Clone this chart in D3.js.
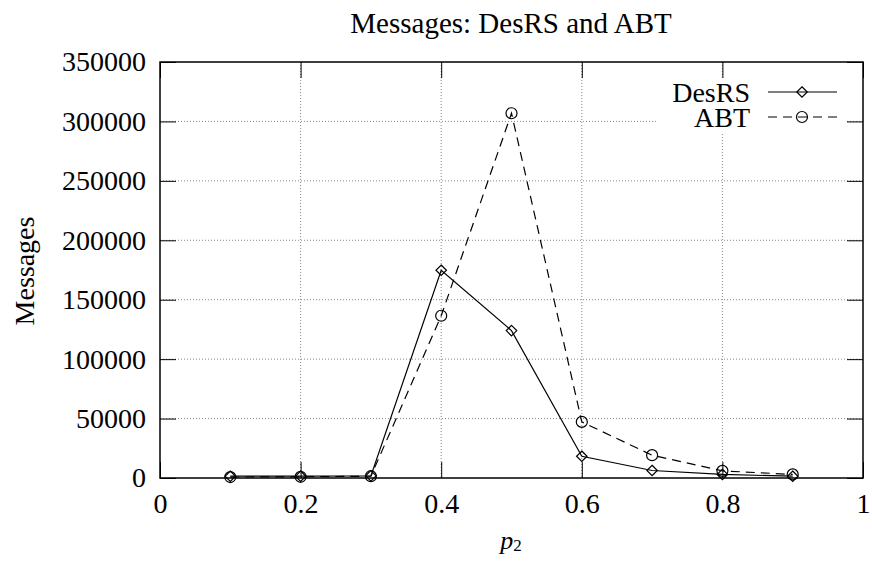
<!DOCTYPE html>
<html>
<head>
<meta charset="utf-8">
<script src="https://cdn.jsdelivr.net/npm/d3@7"></script>
<style>
  body { margin: 0; background: #fff; }
  svg text { font-family: "Liberation Serif", "DejaVu Serif", serif; fill: #000; }
</style>
</head>
<body>
<div id="graph"></div>
<script>
// chart data
var p2 = [0.1, 0.2, 0.3, 0.4, 0.5, 0.6, 0.7, 0.8, 0.9];
var desrs = [1500, 1500, 1800, 174800, 124000, 18300, 6300, 3000, 1500];
var abt = [800, 1000, 1500, 136500, 306900, 47200, 19200, 6000, 3000];
var xTicks = [0, 0.2, 0.4, 0.6, 0.8, 1];
var yTicks = [0, 50000, 100000, 150000, 200000, 250000, 300000, 350000];

// plot box
var margin = {top: 62, right: 9, bottom: 87, left: 160};
var width = 872 - margin.left - margin.right;
var height = 565 - margin.top - margin.bottom;

var x = d3.scaleLinear().domain([0, 1]).range([0, width]);
var y = d3.scaleLinear().domain([0, 350000]).range([height, 0]);

var svg = d3.select("#graph")
  .append("svg")
  .attr("width", 872)
  .attr("height", 565);

var g = svg.append("g")
  .attr("transform", "translate(" + margin.left + "," + margin.top + ")");

// dotted grid
g.append("g").selectAll("line")
  .data(xTicks.slice(1, -1))
  .enter().append("line")
  .attr("x1", function(d) { return x(d); })
  .attr("x2", function(d) { return x(d); })
  .attr("y1", 0).attr("y2", height)
  .attr("stroke", "#888").attr("stroke-width", 1)
  .attr("stroke-dasharray", "1,2");

g.append("g").selectAll("line")
  .data(yTicks.slice(1, -1))
  .enter().append("line")
  .attr("y1", function(d) { return y(d); })
  .attr("y2", function(d) { return y(d); })
  .attr("x1", 0).attr("x2", width)
  .attr("stroke", "#888").attr("stroke-width", 1)
  .attr("stroke-dasharray", "1,2");

// legend background hides grid
g.append("rect")
  .attr("x", 498).attr("y", 16)
  .attr("width", 188).attr("height", 54)
  .attr("fill", "#fff");

// axes with inward ticks, mirrored
var tickLen = 16;
g.append("g")
  .attr("transform", "translate(0," + height + ")")
  .call(d3.axisBottom(x).tickValues(xTicks).tickSize(-tickLen).tickPadding(15)
    .tickFormat(function(d) { return String(d); }));
g.append("g")
  .call(d3.axisLeft(y).tickValues(yTicks).tickSize(-tickLen).tickPadding(14)
    .tickFormat(d3.format("d")));
g.append("g")
  .call(d3.axisTop(x).tickValues(xTicks).tickSize(-tickLen).tickFormat(""));
g.append("g")
  .attr("transform", "translate(" + width + ",0)")
  .call(d3.axisRight(y).tickValues(yTicks).tickSize(-tickLen).tickFormat(""));

g.selectAll(".domain").remove();
g.selectAll("g").attr("font-family", null).attr("font-size", null);
g.selectAll(".tick line").attr("stroke", "#000");
g.selectAll(".tick text")
  .style("font-family", "Liberation Serif, DejaVu Serif, serif")
  .style("font-size", "28px");

g.append("rect")
  .attr("width", width).attr("height", height)
  .attr("fill", "none").attr("stroke", "#000").attr("stroke-width", 1.5);

// lines
var line = d3.line()
  .x(function(d, i) { return x(p2[i]); })
  .y(function(d) { return y(d); });

g.append("path")
  .datum(desrs)
  .attr("fill", "none").attr("stroke", "#000").attr("stroke-width", 1.2)
  .attr("d", line);

g.append("path")
  .datum(abt)
  .attr("fill", "none").attr("stroke", "#000").attr("stroke-width", 1.2)
  .attr("stroke-dasharray", "9,6")
  .attr("d", line);

// markers
var diamond = d3.symbol().type(d3.symbolDiamond2).size(70);
g.append("g").selectAll("path")
  .data(desrs)
  .enter().append("path")
  .attr("d", diamond)
  .attr("transform", function(d, i) { return "translate(" + x(p2[i]) + "," + y(d) + ")"; })
  .attr("fill", "none").attr("stroke", "#000").attr("stroke-width", 1.2);

g.append("g").selectAll("circle")
  .data(abt)
  .enter().append("circle")
  .attr("cx", function(d, i) { return x(p2[i]); })
  .attr("cy", function(d) { return y(d); })
  .attr("r", 5.5)
  .attr("fill", "none").attr("stroke", "#000").attr("stroke-width", 1.2);

// legend
var legend = g.append("g");
legend.append("text")
  .attr("x", 590).attr("y", 30).attr("dy", "0.35em")
  .attr("text-anchor", "end").style("font-size", "28px")
  .text("DesRS");
legend.append("line")
  .attr("x1", 608).attr("x2", 677).attr("y1", 30).attr("y2", 30)
  .attr("stroke", "#000").attr("stroke-width", 1.2);
legend.append("path")
  .attr("d", diamond)
  .attr("transform", "translate(642,30)")
  .attr("fill", "none").attr("stroke", "#000").attr("stroke-width", 1.2);

legend.append("text")
  .attr("x", 590).attr("y", 55).attr("dy", "0.35em")
  .attr("text-anchor", "end").style("font-size", "28px")
  .text("ABT");
legend.append("line")
  .attr("x1", 608).attr("x2", 677).attr("y1", 55).attr("y2", 55)
  .attr("stroke", "#000").attr("stroke-width", 1.2)
  .attr("stroke-dasharray", "9,6");
legend.append("circle")
  .attr("cx", 642).attr("cy", 55).attr("r", 5.5)
  .attr("fill", "none").attr("stroke", "#000").attr("stroke-width", 1.2);

// title and axis labels
svg.append("text")
  .attr("x", 511).attr("y", 33)
  .attr("text-anchor", "middle").style("font-size", "29px")
  .text("Messages: DesRS and ABT");

svg.append("text")
  .attr("transform", "translate(34," + 271 + ") rotate(-90)")
  .attr("text-anchor", "middle").style("font-size", "28px")
  .text("Messages");

var xl = svg.append("text")
  .attr("x", 511).attr("y", 549)
  .attr("text-anchor", "middle").style("font-size", "26px");
xl.append("tspan").style("font-style", "italic").text("p");
xl.append("tspan").attr("dy", 2).style("font-size", "17px").text("2");
</script>
</body>
</html>
